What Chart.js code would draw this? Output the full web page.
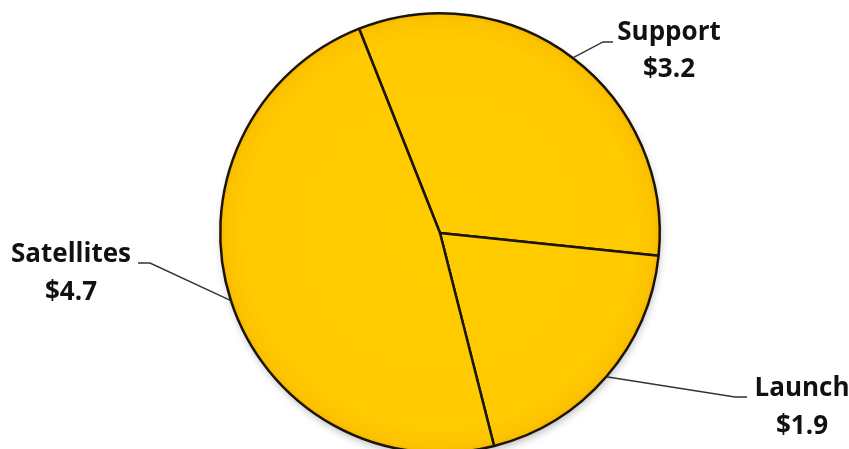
<!DOCTYPE html>
<html>
<head>
<meta charset="utf-8">
<script src="https://cdn.jsdelivr.net/npm/chart.js@4/dist/chart.umd.min.js"></script>
<style>
  html, body { margin: 0; padding: 0; background: #ffffff; overflow: hidden; }
  #wrap { width: 849px; height: 449px; overflow: hidden; }
  canvas { display: block; }
</style>
</head>
<body>
<div id="wrap"><canvas id="pie" width="849" height="466"></canvas></div>
<script>
// Budget split (billions of dollars)
const categories = ['Support', 'Launch', 'Satellites'];
const amounts = [3.2, 1.9, 4.7];
const valueLabels = ['$3.2', '$1.9', '$4.7'];

// Where each callout sits: elbow of the leader, end of the leader, text centre and line centres
const callouts = [
  { elbow: [603, 42], end: [613, 42], tx: 669, ty: [33, 70] },
  { elbow: [735, 397], end: [747, 397], tx: 802, ty: [389, 427] },
  { elbow: [150, 263], end: [138, 263], tx: 71, ty: [255, 293] }
];

function pieGeometry(chart) {
  const area = chart.chartArea;
  const cx = (area.left + area.right) / 2;
  const cy = (area.top + area.bottom) / 2;
  const r = Math.min(area.right - area.left, area.bottom - area.top) / 2;
  return { cx, cy, r };
}

function goldFill(context) {
  const chart = context.chart;
  if (!chart.chartArea) return '#FFCC00';
  const { cx, cy, r } = pieGeometry(chart);
  const g = chart.ctx.createRadialGradient(cx, cy, 0, cx, cy, r);
  g.addColorStop(0, '#FFCC00');
  g.addColorStop(0.88, '#FFCB00');
  g.addColorStop(0.97, '#FCC200');
  g.addColorStop(1, '#F5B400');
  return g;
}

// Soft drop shadow under the whole pie, drawn once before the slices
const pieShadow = {
  id: 'pieShadow',
  beforeDatasetsDraw(chart) {
    const ctx = chart.ctx;
    const arc = chart.getDatasetMeta(0).data[0];
    if (!arc) return;
    ctx.save();
    ctx.shadowColor = 'rgba(0,0,0,0.30)';
    ctx.shadowBlur = 8;
    ctx.shadowOffsetX = 1;
    ctx.shadowOffsetY = 4;
    ctx.fillStyle = '#F5B400';
    ctx.beginPath();
    ctx.arc(arc.x, arc.y, arc.outerRadius - 1, 0, Math.PI * 2);
    ctx.fill();
    ctx.restore();
  }
};

// Callout labels with leader lines from the rim at each slice's middle angle
const calloutLabels = {
  id: 'calloutLabels',
  afterDraw(chart) {
    const ctx = chart.ctx;
    const arcs = chart.getDatasetMeta(0).data;
    ctx.save();
    arcs.forEach((arc, i) => {
      const c = callouts[i];
      const mid = (arc.startAngle + arc.endAngle) / 2;
      const rx = arc.x + Math.cos(mid) * arc.outerRadius;
      const ry = arc.y + Math.sin(mid) * arc.outerRadius;
      ctx.beginPath();
      ctx.strokeStyle = '#333333';
      ctx.lineWidth = 1.4;
      ctx.moveTo(rx, ry);
      ctx.lineTo(c.elbow[0], c.elbow[1]);
      ctx.lineTo(c.end[0], c.end[1]);
      ctx.stroke();

      ctx.fillStyle = '#111111';
      ctx.font = 'bold 26px "Open Sans", "Noto Sans", sans-serif';
      ctx.textAlign = 'center';
      ctx.textBaseline = 'middle';
      ctx.fillText(categories[i], c.tx, c.ty[0]);
      ctx.fillText(valueLabels[i], c.tx, c.ty[1]);
    });
    ctx.restore();
  }
};

new Chart(document.getElementById('pie'), {
  type: 'pie',
  data: {
    labels: categories,
    datasets: [{
      data: amounts,
      backgroundColor: goldFill,
      borderColor: '#1c1406',
      borderWidth: 2.5
    }]
  },
  options: {
    responsive: false,
    animation: false,
    events: [],
    rotation: -21.6,
    layout: { padding: { left: 31, right: 0, top: 12, bottom: 12 } },
    plugins: {
      legend: { display: false },
      tooltip: { enabled: false }
    }
  },
  plugins: [pieShadow, calloutLabels]
});
</script>
</body>
</html>
